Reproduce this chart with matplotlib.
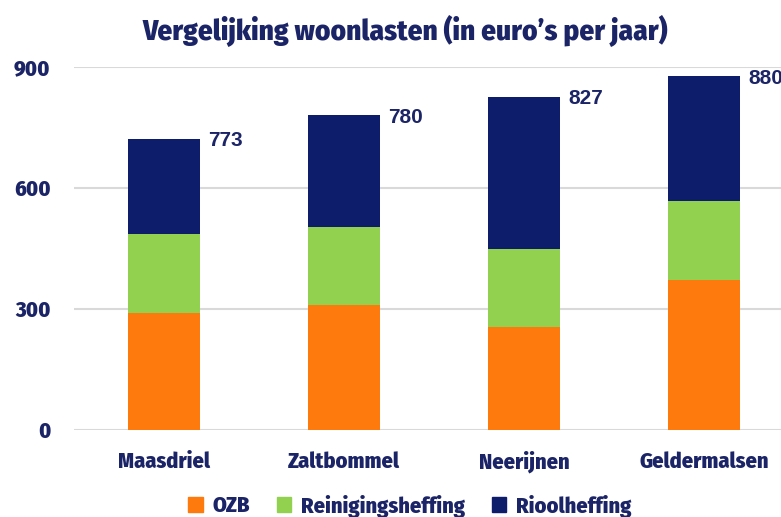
import matplotlib
matplotlib.use("Agg")
import matplotlib.pyplot as plt
from matplotlib.patches import Patch

# values
gemeenten = ["Maasdriel", "Zaltbommel", "Neerijnen", "Geldermalsen"]
ozb = [289, 310, 256, 372]
reiniging = [196, 192, 192, 196]
riool = [236, 278, 378, 308]
totaal_labels = ["773", "780", "827", "880"]
y_ticks = [0, 300, 600, 900]

NAVY = "#0E1D6B"
TEXT = "#1B2466"
ORANGE = "#FF7A0C"
GREEN = "#92D050"

plt.rcParams["font.family"] = ["Fira Sans Condensed", "DejaVu Sans"]
plt.rcParams["font.stretch"] = "condensed"
plt.rcParams["font.weight"] = 800

fig = plt.figure(figsize=(7.81, 5.17), dpi=100)
ax = fig.add_axes([74 / 781, 87 / 517, 720 / 781, 363.3 / 517])

x = range(len(gemeenten))
w = 0.395
ax.bar(x, ozb, w, color=ORANGE, zorder=3)
ax.bar(x, reiniging, w, bottom=ozb, color=GREEN, zorder=3)
bottom3 = [a + b for a, b in zip(ozb, reiniging)]
ax.bar(x, riool, w, bottom=bottom3, color=NAVY, zorder=3)

# totals sit next to the bar tops, in a plainer sans
for i, lab in enumerate(totaal_labels):
    top = bottom3[i] + riool[i]
    ax.annotate(lab, (i + w / 2, top), xytext=(9, -2), textcoords="offset pixels",
                ha="left", va="center", fontsize=15, color=TEXT,
                family=["Liberation Sans", "DejaVu Sans"], fontstretch="normal",
                fontweight="bold", annotation_clip=False)

ax.set_xlim(-0.5, 3.5)
ax.set_ylim(0, 900)
ax.set_yticks(y_ticks)
ax.set_yticklabels([str(t) for t in y_ticks])
ax.set_xticks(list(x))
ax.set_xticklabels(gemeenten)
ax.grid(axis="y", color="#D9D9D9", lw=1.5, zorder=0)
for s in ax.spines.values():
    s.set_visible(False)
ax.tick_params(length=0, labelsize=16, labelcolor=TEXT)
ax.tick_params(axis="y", pad=17)
ax.tick_params(axis="x", pad=15)

fig.text(405 / 781, 1 - 31 / 517, "Vergelijking woonlasten (in euro\u2019s per jaar)",
         ha="center", va="center", fontsize=21, color=TEXT)

handles = [Patch(color=ORANGE, label="OZB"),
           Patch(color=GREEN, label="Reinigingsheffing"),
           Patch(color=NAVY, label="Rioolheffing")]
fig.legend(handles=handles, loc="center", bbox_to_anchor=(410 / 781, 1 - 506 / 517),
           ncol=3, frameon=False, fontsize=16, handlelength=0.65, handleheight=0.65,
           handletextpad=0.45, columnspacing=1.2, labelcolor=TEXT)

fig.savefig("out.png", dpi=100)
